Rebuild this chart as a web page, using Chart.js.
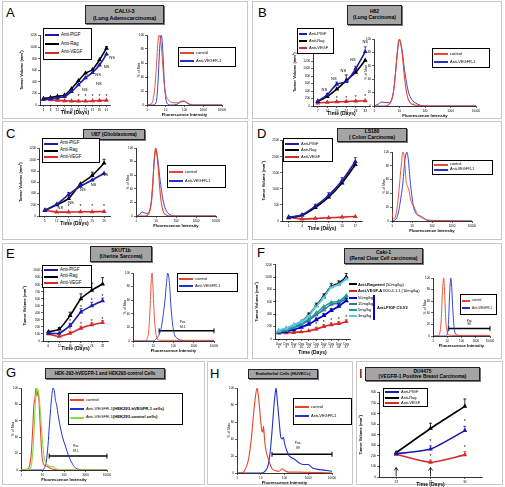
<!DOCTYPE html>
<html><head><meta charset="utf-8">
<script src="https://cdn.jsdelivr.net/npm/chart.js@4.4.0/dist/chart.umd.min.js"></script>
<style>
html,body{margin:0;padding:0;background:#fff;}
#root{position:relative;width:505px;height:487px;overflow:hidden;font-family:"Liberation Sans",Arial,sans-serif;color:#000;}
.frame{position:absolute;border:1px solid #c8c8c8;box-sizing:border-box;}
.letter{position:absolute;font-size:13px;line-height:13px;}
.tbox{position:absolute;background:#a4a4a4;border:1px solid #222;box-sizing:border-box;font-weight:bold;text-align:center;display:flex;flex-direction:column;justify-content:center;box-shadow:1px 1px 0 #777;white-space:nowrap;}
.leg{position:absolute;border:1px solid #000;box-sizing:border-box;background:#fff;display:flex;flex-direction:column;justify-content:space-evenly;padding-left:1px;}
.row{display:flex;align-items:center;white-space:nowrap;}
.sw{display:inline-block;height:2px;margin-right:2px;flex:none;}
canvas{position:absolute;}
.ftxt{position:absolute;white-space:nowrap;}
</style></head>
<body><div id="root"></div>
<script>
// ================= DATA =================
const logTicks = [1, 10, 100, 1000, 10000];

// A: CALU-3
const A_days = ['4','8','12','16','20','24','27','31','35','41'];
const A_plgf = [95,105,125,145,230,350,470,560,690,880];
const A_rag  = [110,130,150,170,280,420,550,610,780,980];
const A_vegf = [100,90,80,72,68,66,66,70,75,80];
const A_ctrl = [[1,0],[1.5,1],[2,5],[2.5,20],[3,45],[3.5,75],[4,95],[4.5,100],[5,96],[6,80],[7,55],[8,35],[10,15],[13,8],[20,4],[40,3],[60,5],[90,6],[130,4],[200,1],[400,0],[10000,0]];
const A_vegfr = [[1,0],[2,0],[3,3],[3.5,15],[4,40],[4.5,70],[5,90],[5.7,100],[6.5,90],[7.5,60],[8.5,30],[10,10],[12,2],[20,0],[40,1],[60,4],[100,5],[150,2],[250,0],[10000,0]];

// B: H82
const B_days = ['7','14','20','24','28','33'];
const B_plgf = [130,300,580,650,1000,1450];
const B_rag  = [120,250,450,680,900,1220];
const B_vegf = [80,100,110,120,130,140];
const B_ctrl = [[1,0],[3,0],[4,3],[5,10],[6,25],[7,50],[8,75],[9,95],[10,100],[11,95],[13,75],[15,50],[18,25],[22,10],[30,3],[50,1],[100,0],[10000,0]];
const B_vegfr = [[1,0],[1.5,3],[2,6],[3,5],[4,5],[5,10],[6,25],[7,50],[8,75],[9,92],[10,98],[11,95],[13,80],[15,60],[18,40],[22,22],[30,10],[50,3],[100,0],[10000,0]];

// C: U87
const C_days = ['5','12','17','22','25','29'];
const C_plgf = [100,210,380,530,640,760];
const C_rag  = [100,200,310,570,720,940];
const C_vegf = [100,70,70,75,75,80];
const C_ctrl = [[1,0],[3,0],[4,2],[5,8],[6,22],[7,50],[8,80],[9,97],[10,100],[11,92],[13,70],[15,45],[18,22],[22,8],[30,2],[60,0],[10000,0]];
const C_vegfr = [[1,0],[1.5,2],[2,6],[3,4],[4,4],[5,10],[6,25],[7,50],[8,78],[9,92],[10,97],[11,93],[13,78],[15,60],[18,42],[22,25],[30,10],[50,2],[100,0],[10000,0]];

// D: LS180
const D_days = ['1','4','7','11','14','17'];
const D_plgf = [120,190,460,800,1250,1850];
const D_rag  = [100,180,420,740,1180,1750];
const D_vegf = [120,60,80,100,120,140];
const D_ctrl = [[1,15],[1.1,5],[1.3,3],[1.6,10],[2,30],[2.5,60],[3,85],[3.5,100],[4,95],[4.5,80],[5,60],[6,50],[7,45],[8,35],[10,25],[13,20],[17,12],[22,8],[30,5],[50,2],[100,1],[10000,0]];
const D_vegfr = [[1,0],[1.5,2],[2,10],[2.5,25],[3,40],[3.5,55],[4,75],[4.5,90],[5.5,100],[6.5,90],[8,60],[10,35],[12,20],[15,12],[20,8],[27,7],[35,5],[50,2],[80,0],[10000,0]];

// E: SKUT1b
const E_days = ['6','12','16','20','26','32'];
const E_plgf = [110,110,220,410,500,570];
const E_rag  = [130,170,360,600,720,810];
const E_vegf = [100,65,110,180,230,260];
const E_ctrl = [[1,0],[4,0],[5,3],[6,15],[7,50],[8,90],[8.7,100],[9.5,85],[10.5,55],[12,25],[14,8],[17,2],[25,1],[10000,1]];
const E_vegfr = [[1,0],[10,0],[13,2],[16,5],[20,10],[25,20],[30,35],[38,60],[45,85],[52,100],[58,95],[65,80],[75,50],[90,25],[110,10],[150,4],[250,1],[500,0],[10000,0]];
const E_gate = [19.5, 10000], E_gateY = 15;

// F: Caki-1
const F_days = ['6','9','13','16','20','23','27','31','34','37'];
const F_rag  = [130,170,220,280,390,540,690,850,900,1000];
const F_vegf = [100,100,105,115,130,160,200,230,250,280];
const F_50   = [100,120,150,190,240,310,380,460,530,620];
const F_15   = [110,140,180,230,300,390,470,560,580,660];
const F_5    = [120,150,200,250,320,420,520,590,610,700];
const F_3    = [140,175,225,280,380,530,670,840,880,970];
const F_ctrl = [[1,0],[2,0],[3,5],[3.8,30],[4.5,70],[5.2,95],[5.7,100],[6.3,85],[7,55],[8,25],[9.5,8],[12,2],[20,1],[10000,1]];
const F_vegfr = [[1,0],[8,0],[10,3],[12,20],[14,60],[16,90],[17.7,100],[20,90],[23,60],[27,30],[32,10],[40,3],[60,1],[100,0],[10000,0]];
const F_gate = [12.7, 10000], F_gateY = 13;

// G: HEK-293
const G_ctrl = [[1,0],[2,1],[2.5,5],[3,20],[3.5,50],[4,80],[4.5,88],[4.9,100],[5.5,90],[6.2,97],[7,80],[8,50],[9,25],[10,12],[12,6],[15,5],[20,3],[30,1],[60,0],[10000,0]];
const G_hek = [[1,0],[10,0],[12,2],[15,10],[18,30],[21,55],[24,75],[27,90],[31,100],[36,95],[40,85],[45,80],[55,65],[70,50],[90,38],[120,28],[160,18],[220,10],[300,4],[450,1],[700,0],[10000,0]];
const G_hekctrl = [[1,0],[2.5,1],[3,5],[3.5,20],[4,45],[4.5,75],[5,92],[5.8,100],[6.5,95],[7.5,80],[8.5,60],[10,35],[12,15],[15,8],[20,5],[30,4],[40,2],[60,0],[10000,0]];
const G_gate = [20.5, 10000], G_gateY = 17;

// H: HUVECs
const H_ctrl = [[1,0],[1.5,0],[2,2],[3,15],[4,40],[5,70],[6,90],[7,100],[8,90],[9,75],[10,60],[11,50],[12,48],[13,55],[14,45],[15,35],[17,25],[20,18],[25,10],[30,5],[40,3],[60,2],[80,5],[100,3],[150,1],[300,1],[10000,0]];
const H_vegfr = [[1,0],[10,0],[15,2],[20,8],[25,25],[30,50],[35,75],[40,92],[44,100],[50,85],[60,60],[70,42],[80,40],[90,42],[100,35],[130,25],[160,20],[200,18],[300,15],[400,12],[600,10],[1000,10],[1500,6],[3000,4],[6000,3],[10000,2]];
const H_gate = [29.7, 10000], H_gateY = 22;

// I: DU4475
const I_days = ['23','27','30'];
const I_plgf = [220,265,440];
const I_rag  = [230,460,670];
const I_vegf = [215,140,210];

// ================= COLOURS =================
const BLUE='#1c1caa', BLACK='#000000', RED='#d42a2a';
const FRED='#e8452c', FBLUE='#2233cc', FGREEN='#88dd44';

// ================= HELPERS =================
const FONT='"Liberation Sans", Arial, sans-serif';
Chart.defaults.font.family = FONT;
Chart.defaults.color = '#000';
const root=document.getElementById('root');

function div(cls,x,y,w,h,html,style){
  const d=document.createElement('div'); d.className=cls;
  d.style.left=x+'px'; d.style.top=y+'px';
  if(w!=null) d.style.width=w+'px'; if(h!=null) d.style.height=h+'px';
  if(html) d.innerHTML=html; if(style) Object.assign(d.style,style);
  root.appendChild(d); return d;
}
function legend(x,y,w,h,items,o={}){
  const d=div('leg',x,y,w,h);
  items.forEach(it=>{
    const r=document.createElement('div'); r.className='row';
    r.style.fontSize=(o.fs||4.5)+'px'; r.style.lineHeight=(o.fs||4.5)+'px';
    r.innerHTML=`<span class="sw" style="background:${it.c};width:${o.sw||14}px;height:${o.lh||2}px"></span>${it.t}`;
    d.appendChild(r);
  });
}
function tbox(x,y,w,h,lines,fs){
  div('tbox',x,y,w,h,lines.map(l=>`<div>${l}</div>`).join(''),{fontSize:fs+'px',lineHeight:(fs+0.6)+'px'});
}
function place(plot,yw,xh){
  const padT=5,padR=7,padL=1,padB=1;
  const [x0,y0,x1,y1]=plot;
  return {left:x0-yw-padL, top:y0-padT, w:(x1-x0)+yw+padL+padR, h:(y1-y0)+xh+padT+padB,
          pad:{left:padL,right:padR,top:padT,bottom:padB}};
}
function mkCanvas(p){
  const c=document.createElement('canvas'); c.width=p.w; c.height=p.h;
  c.style.left=p.left+'px'; c.style.top=p.top+'px'; c.style.width=p.w+'px'; c.style.height=p.h+'px';
  root.appendChild(c); return c;
}
function annot(spec){
  return {id:'annot', afterDatasetsDraw(chart){
    const ctx=chart.ctx, xs=chart.scales.x, ys=chart.scales.y;
    ctx.save();
    (spec.err||[]).forEach(e=>{
      const meta=chart.getDatasetMeta(e.ds), d=chart.data.datasets[e.ds];
      ctx.strokeStyle=d.borderColor; ctx.lineWidth=0.8;
      e.vals.forEach((v,i)=>{ if(!v) return; const p=meta.data[i];
        const yt=ys.getPixelForValue(d.data[i]+v);
        ctx.beginPath(); ctx.moveTo(p.x,p.y); ctx.lineTo(p.x,yt);
        ctx.moveTo(p.x-1.5,yt); ctx.lineTo(p.x+1.5,yt); ctx.stroke(); });
    });
    (spec.texts||[]).forEach(t=>{
      ctx.font=(t.bold?'bold ':'')+(t.size||4)+'px '+FONT; ctx.fillStyle=t.color||'#000';
      ctx.textAlign='center'; ctx.textBaseline='middle';
      ctx.fillText(t.t, xs.getPixelForValue(t.x), ys.getPixelForValue(t.y));
    });
    (spec.arrows||[]).forEach(a=>{
      const x=xs.getPixelForValue(a.x), yb=ys.getPixelForValue(a.y0), yt=ys.getPixelForValue(a.y1);
      ctx.strokeStyle='#000'; ctx.lineWidth=0.8; ctx.beginPath();
      ctx.moveTo(x,yb); ctx.lineTo(x,yt); ctx.moveTo(x-2,yt+3); ctx.lineTo(x,yt); ctx.lineTo(x+2,yt+3); ctx.stroke();
    });
    ctx.restore();
  }};
}
function axisCommon(){
  return {grid:{display:true,drawOnChartArea:false,tickLength:2,color:'#000',lineWidth:0.6},
          border:{display:true,color:'#000',width:0.8}};
}
function growth(plot,labels,series,yMax,yStep,spec,o={}){
  const yw=o.yw||21, xh=o.xh||11;
  const p=place(plot,yw,xh), c=mkCanvas(p);
  new Chart(c,{type:'line',
    data:{labels, datasets:series.map(s=>({data:s.data,borderColor:s.color,backgroundColor:s.color,
      borderWidth:s.bw||1.6,pointRadius:1.2,pointStyle:'triangle',tension:0.2,fill:false}))},
    options:{responsive:false,animation:false,devicePixelRatio:1,layout:{padding:p.pad},
      plugins:{legend:{display:false},tooltip:{enabled:false}},
      scales:{
        x:Object.assign(axisCommon(),{type:'category',offset:true,
          ticks:{font:{size:3},padding:1,maxRotation:0,autoSkip:false,color:'#000'},
          title:{display:true,text:'Time (Days)',font:{size:5,weight:'bold'},padding:0,color:'#000'},
          afterFit:s=>{s.height=xh;}}),
        y:Object.assign(axisCommon(),{min:0,max:yMax,
          ticks:{stepSize:yStep,font:{size:3},padding:1,color:'#000',callback:v=>String(v)},
          title:{display:true,text:'Tumor Volume (mm³)',font:{size:4,weight:'bold'},padding:0,color:'#000'},
          afterFit:s=>{s.width=yw;}})
      }},
    plugins:[annot(spec)]});
}
function facs(plot,curves,gate,spec,o={}){
  const yw=o.yw||10, xh=o.xh||12;
  const p=place(plot,yw,xh), c=mkCanvas(p);
  const ds=curves.map(cv=>({data:cv.pts.map(([x,y])=>({x,y})),borderColor:cv.color,borderWidth:cv.bw||0.9,
    pointRadius:0,showLine:true,cubicInterpolationMode:'monotone',fill:false}));
  if(gate){
    ds.push({data:[{x:gate.x[0],y:gate.y},{x:gate.x[1],y:gate.y}],borderColor:'#000',backgroundColor:'#000',
      borderWidth:1.6,showLine:true,pointStyle:'line',rotation:90,pointRadius:2.5,pointBorderWidth:1,clip:false});
  }
  new Chart(c,{type:'scatter',data:{datasets:ds},
    options:{responsive:false,animation:false,devicePixelRatio:1,layout:{padding:p.pad},
      plugins:{legend:{display:false},tooltip:{enabled:false}},
      scales:{
        x:Object.assign(axisCommon(),{type:'logarithmic',min:1,max:10000,
          afterBuildTicks:s=>{s.ticks=logTicks.map(v=>({value:v}));},
          ticks:{font:{size:3},padding:1,maxRotation:0,autoSkip:false,color:'#000',callback:v=>String(v)},
          title:{display:true,text:'Fluorescence Intensity',font:{size:4.2,weight:'bold'},padding:0,color:'#000'},
          afterFit:s=>{s.height=xh;}}),
        y:Object.assign(axisCommon(),{min:0,max:100,
          ticks:{stepSize:20,font:{size:3},padding:1,color:'#000'},
          title:{display:true,text:'% of Max',font:{size:3.5},padding:0,color:'#000'},
          afterFit:s=>{s.width=yw;}})
      }},
    plugins:[annot(spec)]});
}
const ns=(x,y)=>({x,y,t:'NS',size:4});
const st=(x,y)=>({x,y,t:'*',size:5});

// ================= FRAMES / LETTERS / TITLES =================
[[2,1,246,118],[252,1,250,118],[2,121,246,119],[252,121,250,119],[2,243,246,116],[252,243,250,116],
 [2,361,203,124],[207,361,146,124],[356,361,147,124]].forEach(f=>div('frame',f[0],f[1],f[2],f[3]));
[['A',6,6],['B',258,6],['C',6,127],['D',257,127],['E',6,247],['F',257,246],['G',6,366],['H',210,367],['I',359,367]]
  .forEach(l=>div('letter',l[1],l[2],null,null,l[0]));
tbox(85,5,79,19,['CALU-3','(Lung Adenocarcinoma)'],5.5);
tbox(347,5,55,20,['H82','(Lung Carcinoma)'],5);
tbox(83,129,62,11,['U87 (Glioblastoma)'],5);
tbox(337,128,70,14,['LS180','( Colon Carcinoma)'],5);
tbox(90,246,62,16,['SKUT1b','(Uterine Sarcoma)'],5);
tbox(344,248,79,16,['Caki-1','(Renal Clear Cell carcinoma)'],5);
tbox(45,368,120,11,['HEK-293-hVEGFR-1 and HEK293-control Cells'],4.6);
tbox(248,369,70,10,['Endothelial Cells (HUVECs)'],4.2);
tbox(365,367,115,14,['DU4475','(VEGFR-1 Positive Breast Carcinoma)'],4.9);

// ================= CHARTS =================
const G3 = (p,r,v)=>[{data:p,color:BLUE},{data:r,color:BLACK},{data:v,color:RED}];

// A
growth([40,35,110,105],A_days,G3(A_plgf,A_rag,A_vegf),1200,200,{
  err:[{ds:1,vals:[0,0,0,0,0,0,0,0,0,30]}],
  texts:[ns(5.9,255),ns(7.9,370),ns(7.8,525),ns(9,660),ns(9.8,820),st(5,145),st(6,145),st(7,145),st(8,145),st(9,145)]});
facs([147,35,222,105],[{pts:A_ctrl,color:FRED},{pts:A_vegfr,color:FBLUE}],null,{});

// B
growth([313,38,370,106],B_days,G3(B_plgf,B_rag,B_vegf),1800,200,{
  err:[{ds:0,vals:[0,30,60,0,60,130]},{ds:1,vals:[0,0,0,150,0,0]}],
  texts:[ns(0.7,420),ns(1.7,720),ns(2.7,950),ns(3.7,1220),ns(5,1700),st(1,190),st(2,200),st(3,205),st(4,215),st(5,260)]});
facs([374,39,476,106],[{pts:B_ctrl,color:FRED,bw:1.1},{pts:B_vegfr,color:FBLUE}],null,{});

// C
growth([39,148,110,216],C_days,G3(C_plgf,C_rag,C_vegf),1200,200,{
  err:[{ds:1,vals:[0,0,0,0,60,70]},{ds:0,vals:[0,0,40,40,0,0]}],
  texts:[ns(1.3,150),ns(2.2,240),ns(3.2,460),ns(4.1,550),ns(5.1,740),st(2,160),st(3,160),st(4,160),st(5,160)]});
facs([136,148,216,216],[{pts:C_ctrl,color:FRED,bw:1.1},{pts:C_vegfr,color:FBLUE}],null,{});

// D
growth([282,140,362,221],D_days,G3(D_plgf,D_rag,D_vegf),2500,500,{
  err:[{ds:0,vals:[0,0,60,80,100,120]}]});
facs([392,152,472,221],[{pts:D_ctrl,color:FRED},{pts:D_vegfr,color:FBLUE}],null,{});

// E
growth([43,270,108,341],E_days,G3(E_plgf,E_rag,E_vegf),1000,100,{
  err:[{ds:1,vals:[0,20,50,70,100,90]},{ds:0,vals:[0,0,30,50,50,40]},{ds:2,vals:[0,0,30,30,30,30]}],
  texts:[st(2,280),st(3,470),st(4,570),st(5,630),st(2,160),st(3,230),st(4,280),st(5,310)]});
facs([133,273,214,341],[{pts:E_ctrl,color:FRED},{pts:E_vegfr,color:FBLUE}],{x:E_gate,y:E_gateY},
  {texts:[{x:280,y:27,t:'Pos',size:3},{x:280,y:21,t:'94.1',size:3}]});

// F
growth([275,264,350,339],F_days.map(d=>['Day',d]),[
  {data:F_3,color:'#55c8e6',bw:1.8},{data:F_5,color:'#1f9c8c',bw:1.6},{data:F_15,color:'#3a6ea5',bw:1.6},
  {data:F_50,color:'#0000c8',bw:1.8},{data:F_rag,color:BLACK,bw:1.6},{data:F_vegf,color:RED,bw:1.6}],1200,200,{
  err:[{ds:4,vals:[0,0,0,0,30,40,40,50,40,60]},{ds:5,vals:[0,0,0,0,0,30,30,30,30,30]},{ds:3,vals:[0,0,0,0,30,30,30,30,40,40]}],
  texts:[st(5,235),st(6,265),st(7,300),st(8,320),st(9,345)]},{xh:17});
facs([433,278,490,336],[{pts:F_ctrl,color:FRED},{pts:F_vegfr,color:FBLUE}],{x:F_gate,y:F_gateY},
  {texts:[{x:350,y:26,t:'Pos',size:3},{x:350,y:20,t:'98',size:3}]});

// G
facs([21,388,107,470],[{pts:G_hekctrl,color:FGREEN,bw:1.1},{pts:G_ctrl,color:FRED,bw:1.1},{pts:G_hek,color:FBLUE,bw:1}],
  {x:G_gate,y:G_gateY},{texts:[{x:354,y:29,t:'Pos',size:3},{x:354,y:23,t:'87.1',size:3}]});

// H
facs([237,388,332,473],[{pts:H_ctrl,color:FRED,bw:1.1},{pts:H_vegfr,color:FBLUE,bw:1.1}],
  {x:H_gate,y:H_gateY},{texts:[{x:370,y:35,t:'Pos.',size:3.2},{x:370,y:29,t:'89',size:3.2}]});

// I
growth([379,392,482,477],I_days,G3(I_plgf,I_rag,I_vegf),800,100,{
  err:[{ds:1,vals:[0,50,70]},{ds:0,vals:[0,30,40]},{ds:2,vals:[0,20,30]}],
  texts:[st(1,340),st(2,525),st(1,195),st(2,275)],
  arrows:[{x:0,y0:5,y1:90},{x:1,y0:5,y1:90}]});

// ================= LEGENDS =================
const L3=[{t:'Anti-PlGF',c:BLUE},{t:'Anti-Rag',c:BLACK},{t:'Anti-VEGF',c:RED}];
const L2=[{t:'control',c:FRED},{t:'Anti-VEGFR-1',c:FBLUE}];
legend(43,28,49,32,L3,{fs:4.5});
legend(178,47,58,20,L2,{fs:4});
legend(297,28,37,26,L3,{fs:4,sw:8});
legend(432,48,58,20,L2,{fs:4});
legend(42,138,58,25,L3,{fs:4.5});
legend(167,165,59,23,L2,{fs:4});
legend(283,138,50,24,L3,{fs:4});
legend(432,160,61,15,L2,{fs:3.8});
legend(42,265,50,23,L3,{fs:4.5});
legend(177,273,61,19,L2,{fs:4});
legend(460,294,37,21,L2,{fs:3.2,sw:8});
legend(68,393,115,32,[{t:'control',c:FRED},{t:'Anti-VEGFR-1 <b>(HEK293-hVEGFR-1 cells)</b>',c:FBLUE},{t:'Anti-VEGFR-1 <b>(HEK293-control cells)</b>',c:FGREEN}],{fs:4.2});
legend(293,398,59,27,L2,{fs:4});
legend(383,388,45,19,L3,{fs:4});

// F legend (no box)
const FL=[['<b>Anti-Ragweed</b> (50mg/kg)',BLACK],['<b>Anti-VEGF-A</b> B20.4.1.1 (10mg/kg)',RED],['50mg/kg','#0000c8'],['15mg/kg','#3a6ea5'],['5mg/kg','#1f9c8c'],['3mg/kg','#55c8e6']];
const FY=[284,290.5,297.5,303.5,309.5,315.5];
FL.forEach((r,i)=>{
  div('ftxt',349,FY[i]-1,8,2,'',{background:r[1]});
  div('ftxt',358,FY[i]-2.5,null,null,r[0],{fontSize:4+'px',lineHeight:'5px'});
});
div('ftxt',373,295,2,25,'',{background:'#0000c8'});
div('ftxt',377,305,null,null,'<b>Anti-PlGF C9.V2</b>',{fontSize:'4px',lineHeight:'5px'});
</script>
</body></html>
